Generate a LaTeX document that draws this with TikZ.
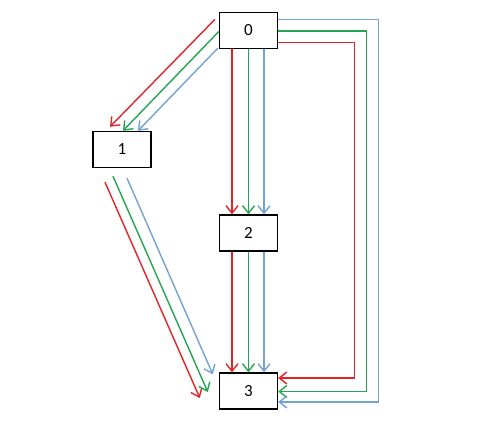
\documentclass[tikz,border=0pt]{standalone}
\usepackage{fontspec}
\setmainfont{Carlito}
\usetikzlibrary{arrows.meta}
\definecolor{pathred}{RGB}{226,36,40}
\definecolor{pathgreen}{RGB}{36,164,80}
\definecolor{pathblue}{RGB}{116,162,210}
\begin{document}
\begin{tikzpicture}[x=1pt, y=-1pt,
    state/.style={draw=black, line width=1.4pt, fill=white, minimum width=58pt, minimum height=36pt, inner sep=0pt, font=\fontsize{17}{19}\selectfont},
    route/.style={line width=1.4pt, -{Straight Barb[length=7.5pt, width=12pt]}}]
    \useasboundingbox (0,0) rectangle (478,422);

    % States
    \node[state] (n0) at (248.5, 30.5) {0};
    \node[state] (n1) at (122, 149.5) {1};
    \node[state] (n2) at (248.5, 233) {2};
    \node[state] (n3) at (248.5, 391) {3};

    % 0 -> 1
    \draw[route, pathred] ([xshift=-4pt, yshift=11pt]n0.west) -- ([xshift=-12pt, yshift=4pt]n1.north);
    \draw[route, pathgreen] ([yshift=-1pt]n0.west) -- ([xshift=1pt]n1.north);
    \draw[route, pathblue] ([xshift=-1pt, yshift=1pt]n0.south west) -- ([xshift=16pt]n1.north);

    % 0 -> 2
    \draw[route, pathred] ([xshift=-16.5pt]n0.south) -- ([xshift=-16.5pt]n2.north);
    \draw[route, pathgreen] ([xshift=0pt]n0.south) -- ([xshift=0pt]n2.north);
    \draw[route, pathblue] ([xshift=15.5pt]n0.south) -- ([xshift=15.5pt]n2.north);

    % 2 -> 3
    \draw[route, pathred] ([xshift=-16.5pt]n2.south) -- ([xshift=-16.5pt]n3.north);
    \draw[route, pathgreen] ([xshift=0pt]n2.south) -- ([xshift=0pt]n3.north);
    \draw[route, pathblue] ([xshift=15.5pt]n2.south) -- ([xshift=15.5pt]n3.north);

    % 1 -> 3
    \draw[route, pathred] ([xshift=-17pt, yshift=-14pt]n1.south) -- ([xshift=-19pt, yshift=-7pt]n3.west);
    \draw[route, pathgreen] ([xshift=-9pt, yshift=-8pt]n1.south) -- ([xshift=-11pt, yshift=-1pt]n3.west);
    \draw[route, pathblue] ([xshift=5pt, yshift=-10pt]n1.south) -- ([xshift=-6pt, yshift=-2pt]n3.north west);

    % 0 -> 3 (around the right)
    \draw[route, pathred] ([yshift=-12pt]n0.east) -- ++(76,0) |- ([yshift=13pt]n3.east);
    \draw[route, pathgreen] ([yshift=-0.5pt]n0.east) -- ++(88,0) |- ([yshift=-0.5pt]n3.east);
    \draw[route, pathblue] ([yshift=11pt]n0.east) -- ++(100,0) |- ([yshift=-11pt]n3.east);
\end{tikzpicture}
\end{document}
